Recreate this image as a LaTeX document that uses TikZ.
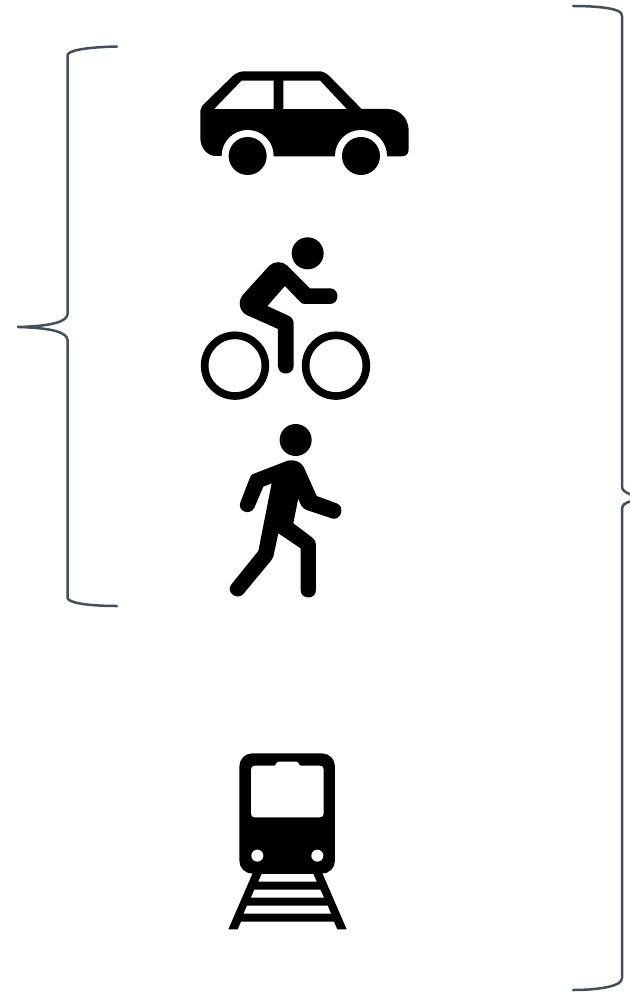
\documentclass[tikz,border=0pt]{standalone}
\definecolor{bracecol}{HTML}{42505C}
\tikzset{
  bracecurve/.style={draw=bracecol,line width=2.5pt,line cap=round,line join=round},
  ink/.style={fill=black,draw=none},
  hole/.style={fill=white,draw=none},
  icon/.style={x=0.3333pt,y=-0.3333pt}
}
\begin{document}
\begin{tikzpicture}[x=1pt,y=-1pt]
\useasboundingbox (0,0) rectangle (629,995);
\fill[white] (0,0) rectangle (629,995);
% left brace
\draw[bracecurve] (117,46.5) .. controls (95,47) and (72,49) .. (68,54) -- (67.5,56) -- (67.5,314)
  .. controls (67,321) and (55,326) .. (18,327)
  .. controls (55,328) and (67,333) .. (67.5,340) -- (67.5,597) -- (68,599)
  .. controls (72,604) and (95,606) .. (117,606);
% right brace
\draw[bracecurve] (573,6) .. controls (595,6) and (617,8) .. (621,13) -- (622,16) -- (622,486)
  .. controls (622,490) and (624,492) .. (632,495);
\draw[bracecurve] (632,501) .. controls (624,503) and (622,505) .. (622,510) -- (622,978) -- (621,981)
  .. controls (617,987) and (595,990) .. (573,990);
% car
\begin{scope}[shift={(180,50)},icon]
\path[ink] (190,64) -- (420,64) .. controls (432,65) and (442,72) .. (450,80) -- (545,177) -- (625,177)
  .. controls (660,178) and (685,205) .. (686,240) -- (686,298) .. controls (686,312) and (678,319) .. (665,319)
  -- (110,319) .. controls (82,318) and (62,295) .. (61,265) -- (61,182) .. controls (62,172) and (68,165) .. (76,158)
  -- (158,78) .. controls (167,70) and (178,65) .. (190,64) -- cycle;
\path[hole] (103,177) -- (185,92) -- (281,92) -- (281,177) -- cycle;
\path[hole] (310,92) -- (420,92) -- (500,177) -- (310,177) -- cycle;
\path[hole] (203,318) circle[radius=78];
\path[hole] (543,318) circle[radius=78];
\path[hole] (100,319) rectangle (127,330);
\path[ink] (203,318) circle[radius=57];
\path[ink] (543,318) circle[radius=57];
\end{scope}
% bicycle
\begin{scope}[shift={(190,225)},icon]
\path[ink] (353,85) circle[radius=48];
\draw[line width=7.7pt] (135,422) circle[radius=91];
\draw[line width=7.7pt] (438,422) circle[radius=91];
\path[ink] (238,122) .. controls (252,108) and (278,108) .. (292,122)
  -- (360,190) -- (420,190) .. controls (450,190) and (450,237) .. (420,237)
  -- (345,237) .. controls (338,237) and (335,235) .. (330,230)
  -- (285,183) -- (232,243) -- (295,272) .. controls (306,277) and (311,285) .. (311,297)
  -- (311,423) .. controls (311,453) and (264,453) .. (264,423)
  -- (264,312) -- (170,270) .. controls (147,258) and (142,228) .. (160,208) -- cycle;
\end{scope}
% pedestrian
\begin{scope}[shift={(215,415)},icon]
\path[ink] (242,75) circle[radius=48];
\path[ink] (112,178) -- (210,140) .. controls (232,130) and (258,138) .. (268,160)
  -- (305,243) -- (365,265) .. controls (392,275) and (377,320) .. (350,310)
  -- (275,285) .. controls (262,280) and (256,270) .. (250,250)
  -- (235,325) -- (292,368) .. controls (300,374) and (303,380) .. (303,390)
  -- (303,525) .. controls (303,555) and (257,555) .. (257,525)
  -- (257,400) -- (190,355) -- (175,425) .. controls (174,430) and (172,433) .. (168,437)
  -- (85,537) .. controls (65,558) and (30,530) .. (50,507)
  -- (130,408) -- (170,205) -- (145,215) -- (118,278) .. controls (105,305) and (62,288) .. (78,257)
  -- (105,188) .. controls (107,183) and (108,180) .. (112,178) -- cycle;
\end{scope}
% train
\begin{scope}[shift={(215,745)},icon]
\path[ink] (115,380) -- (40,553) -- (68,553) -- (78,530) -- (357,530) -- (367,553) -- (395,553) -- (320,380) -- cycle;
\path[hole] (130,410) -- (140,387) -- (295,387) -- (305,410) -- cycle;
\path[hole] (108,458) -- (118,434) -- (316,434) -- (327,458) -- cycle;
\path[hole] (86,506) -- (96,482) -- (338,482) -- (348,506) -- cycle;
\path[ink,rounded corners=13pt] (73,25) rectangle (360,386);
\path[hole] (120,62) -- (178,62) .. controls (184,62) and (182,50) .. (192,50) -- (243,50)
  .. controls (253,50) and (250,62) .. (258,62) -- (314,62) .. controls (322,62) and (326,66) .. (326,74)
  -- (326,205) .. controls (326,213) and (322,217) .. (314,217) -- (120,217)
  .. controls (112,217) and (108,213) .. (108,205) -- (108,74) .. controls (108,66) and (112,62) .. (120,62) -- cycle;
\path[hole] (127,332) circle[radius=18];
\path[hole] (307,332) circle[radius=18];
\end{scope}
\end{tikzpicture}
\end{document}
